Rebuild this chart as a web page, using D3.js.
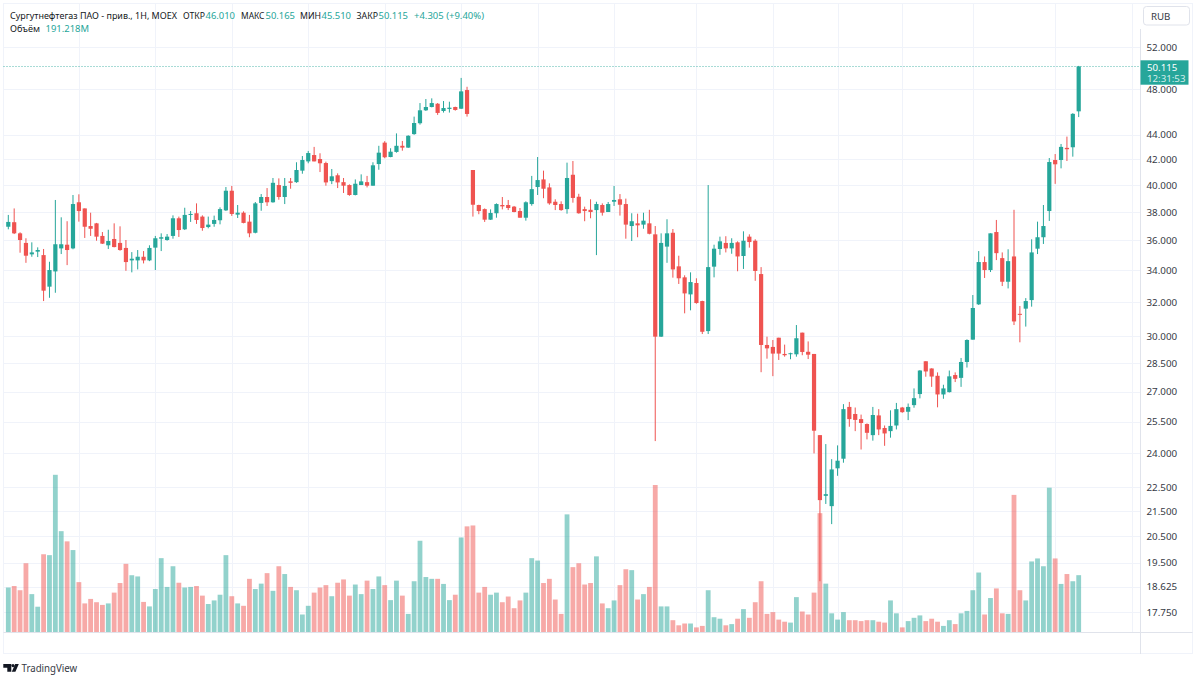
<!DOCTYPE html>
<html>
<head>
<meta charset="utf-8">
<script src="https://cdnjs.cloudflare.com/ajax/libs/d3/7.8.5/d3.min.js"></script>
<style>
	html, body {margin: 0; padding: 0; background: #fff;}
	svg {display: block;}
	text {font-family: "Noto Sans", sans-serif; font-size: 9.7px; fill: #131722;}
</style>
</head>
<body>
<svg id="chart" width="1200" height="682"></svg>
<script>
/* global d3 */

var verde = "#26a69a", rojo = "#ef5350", rejilla = "#f0f3fa", borde = "#e0e3eb";	//Colores del grafico

//Velas semanales: apertura, maximo, minimo, cierre, volumen (millones)
var velas = [
[36.94,37.78,36.76,37.28,150],[37.26,38.25,36.43,36.48,155],[36.48,36.55,35.16,36.02,141],[35.82,36.14,34.49,34.96,231],[35.05,35.86,34.89,35.18,128],
[35.23,35.52,34.87,35.34,86],[35.00,35.41,32.07,32.71,261],[32.96,34.56,32.27,34.02,258],[33.93,38.87,32.58,35.73,526],[35.45,37.61,35.07,35.73,338],
[35.70,37.33,34.34,35.34,304],[35.45,39.24,35.39,38.57,275],[38.70,39.29,37.30,38.06,168],[38.25,38.25,36.16,36.94,97],[36.99,37.94,36.30,36.80,112],
[37.18,37.21,35.97,36.25,101],[36.30,36.57,35.75,35.77,92],[35.66,36.73,35.41,35.95,97],[36.09,37.18,35.52,35.54,133],[35.82,36.97,35.29,35.34,165],
[35.48,36.02,33.97,34.54,229],[34.65,35.20,33.87,34.76,191],[34.65,35.34,34.06,34.89,187],[34.89,35.27,34.45,34.65,102],[34.65,35.66,34.60,35.48,87],
[35.50,36.30,34.02,36.14,145],[36.11,36.48,35.27,36.21,248],[36.02,36.43,35.97,36.25,152],[36.30,37.75,36.11,37.54,221],[37.54,37.66,36.23,36.71,166],
[36.76,38.30,36.71,37.78,150],[37.80,38.06,37.28,37.85,152],[37.90,38.62,37.14,37.42,155],[37.66,37.75,36.66,36.85,123],[36.92,37.66,36.83,37.09,95],
[37.14,37.73,36.94,37.42,107],[37.40,38.33,37.11,38.20,126],[38.11,39.84,38.06,39.56,258],[39.56,39.92,37.71,37.85,121],[37.80,38.50,37.56,37.94,97],
[37.94,38.04,37.18,37.21,89],[37.30,37.78,36.21,36.48,179],[36.52,38.72,36.48,38.62,145],[38.65,39.31,38.08,39.09,163],[39.09,39.76,38.43,38.70,198],
[38.70,40.53,38.67,40.16,139],[39.99,40.50,38.89,39.09,221],[39.09,40.53,38.57,39.92,195],[40.27,40.53,39.71,40.16,152],[40.21,41.76,40.16,41.15,141],
[41.10,42.26,40.86,41.94,60],[41.83,42.67,41.68,42.50,89],[42.34,43.00,41.83,41.83,133],[42.02,42.48,40.99,41.68,150],[41.70,41.81,39.94,40.19,158],
[40.29,41.23,40.06,40.66,121],[40.74,40.89,39.76,40.19,166],[40.21,40.53,39.39,39.94,177],[39.99,40.04,39.18,39.24,123],[39.24,40.42,39.21,40.09,160],
[39.99,40.81,39.99,40.27,128],[40.21,40.69,39.81,39.94,173],[39.94,41.76,39.94,41.52,145],[41.62,43.09,41.17,42.53,187],[43.35,43.47,42.08,42.16,158],
[42.18,42.89,42.16,42.61,108],[42.59,44.12,42.53,43.09,173],[43.09,43.49,42.69,42.94,123],[42.94,43.96,42.92,43.92,62],[44.06,45.55,44.00,45.00,171],
[44.98,46.74,44.86,46.10,306],[46.10,47.10,46.04,46.39,185],[46.39,47.16,46.36,46.74,179],[46.68,46.74,45.70,45.87,179],[46.04,46.92,45.90,46.30,162],
[46.22,46.86,45.90,46.33,108],[46.39,46.42,46.07,46.13,126],[46.24,49.03,46.22,47.79,317],[47.91,48.21,45.55,45.78,354],[41.15,41.15,37.66,38.52,357],
[38.50,38.52,37.83,38.06,133],[38.20,38.25,37.28,37.44,152],[37.44,38.18,37.42,37.92,126],[37.90,38.62,37.58,38.57,133],[38.50,39.09,38.18,38.40,101],
[38.50,38.87,38.13,38.28,120],[38.38,38.43,37.97,37.99,81],[38.06,38.28,37.58,37.58,107],[37.58,38.77,37.37,38.70,133],[38.57,40.69,38.45,39.68,248],
[39.84,42.18,39.24,40.37,240],[40.42,41.10,39.00,39.71,165],[39.81,40.12,38.52,38.62,179],[38.74,38.92,38.13,38.50,110],[38.57,38.77,38.08,38.13,62],
[38.20,41.73,37.87,40.53,394],[40.78,41.86,38.67,39.02,218],[39.11,39.33,37.87,37.90,231],[38.20,38.38,37.33,38.06,160],[38.15,38.92,37.54,37.99,165],
[38.13,38.74,35.00,38.57,254],[38.50,38.62,37.73,37.94,97],[37.99,38.72,37.99,38.57,81],[38.74,39.92,38.43,38.87,107],[38.92,39.31,37.73,38.52,158],
[38.57,38.97,36.11,37.09,211],[36.99,37.90,35.95,37.33,208],[37.18,37.87,36.21,37.04,110],[37.09,37.94,36.80,37.37,128],[37.18,38.15,36.41,36.45,152],
[36.41,36.99,24.57,29.97,492],[29.97,36.48,29.95,35.82,87],[35.57,37.47,34.49,36.48,87],[36.52,36.78,33.53,34.06,41],[34.26,34.96,33.13,33.49,24],
[33.55,33.68,31.33,32.54,30],[32.48,33.87,31.51,33.25,30],[33.19,33.49,31.91,31.95,17],[32.07,32.09,30.12,30.25,22],[30.29,39.99,30.12,34.21,141],
[34.24,35.70,33.55,35.43,51],[35.41,36.25,35.02,35.93,46],[35.82,36.28,35.18,35.45,24],[35.45,36.14,35.09,35.82,28],[35.86,35.93,33.94,34.91,46],
[34.94,36.62,34.09,35.97,78],[36.25,36.41,35.50,35.88,49],[35.97,36.07,33.33,33.96,101],[33.76,34.21,28.01,29.50,171],[29.50,29.97,28.74,29.31,62],
[29.39,29.78,27.80,29.02,68],[29.91,29.91,28.67,29.02,43],[29.00,29.52,28.85,28.93,36],[29.00,29.07,28.71,29.04,33],[28.98,30.64,28.85,29.88,118],
[30.20,30.20,28.93,29.11,70],[29.12,29.70,28.72,28.96,60],[29.00,29.00,24.00,25.06,133],[24.85,24.85,18.82,21.96,398],[22.14,24.43,21.80,22.21,163],
[21.71,23.74,20.98,23.28,64],[23.33,24.37,23.00,23.67,43],[23.76,26.36,23.58,26.11,68],[26.22,26.47,25.25,25.62,41],[25.87,26.19,25.04,25.58,41],
[25.62,25.84,24.18,25.43,38],[25.38,25.41,24.65,24.96,41],[24.85,26.22,24.59,25.82,41],[25.80,26.11,24.85,25.12,36],[25.19,25.31,24.35,24.93,33],
[25.04,26.05,24.73,25.29,107],[25.31,26.42,25.12,26.11,64],[26.19,26.22,25.93,25.96,17],[25.98,26.39,25.57,26.22,38],[26.31,27.16,26.18,26.66,49],
[26.87,28.12,26.65,28.10,57],[28.60,28.60,27.77,28.05,38],[28.21,28.22,27.24,27.78,46],[27.82,28.00,26.20,26.85,36],[26.85,27.35,26.63,27.16,22],
[26.97,28.10,26.95,27.79,41],[27.86,28.00,27.49,27.66,28],[27.71,28.78,27.24,28.56,64],[28.56,29.82,28.26,29.78,72],[29.80,32.44,29.80,31.65,141],
[31.87,35.27,31.83,34.54,200],[34.54,34.91,33.51,34.02,60],[34.02,36.48,33.89,36.48,115],[36.57,37.42,34.67,35.13,147],[34.80,35.18,33.00,33.27,64],
[33.27,35.39,32.85,34.60,62],[34.91,38.15,30.64,30.85,459],[31.30,31.77,29.65,31.24,141],[31.61,32.25,30.55,32.07,107],[32.13,36.07,31.73,35.18,237],
[35.43,37.30,35.07,36.21,247],[36.21,38.50,35.75,36.99,221],[38.06,42.10,37.35,41.78,483],[41.94,42.42,40.08,41.60,247],[41.94,43.24,41.28,43.00,162],
[42.92,43.85,41.86,42.81,195],[42.97,45.85,42.21,45.79,171],[46.01,50.165,45.51,50.115,191.218]
].map(function (d, i) {
	return {i: i, o: d[0], h: d[1], l: d[2], c: d[3], v: d[4]};
});

var recorte = {i: -1, h: 38.13, l: 36.92};		//Vela cortada por el borde izquierdo, solo se ve la mecha

var preciosEje = [52, 48, 44, 42, 40, 38, 36, 34, 32, 30, 28.5, 27, 25.5, 24, 22.5, 21.5, 20.5, 19.5, 18.625, 17.75];

//Marcas del eje de tiempo (i = numero de semana)
var fechas = [
	{i: -1.5, t: "2020", b: true, sinLinea: true}, {i: 12, t: "Апр"}, {i: 25, t: "Июл"}, {i: 38, t: "Окт"},
	{i: 51, t: "2021", b: true}, {i: 64, t: "Апр"}, {i: 77, t: "Июл"}, {i: 90, t: "Окт"},
	{i: 103, t: "2022", b: true}, {i: 117, t: "Май"}, {i: 130, t: "Авг"}, {i: 141, t: "17"},
	{i: 152, t: "2023", b: true}, {i: 164, t: "Апр"}, {i: 178, t: "Июл"}, {i: 191, t: "Окт"}
];

var svg = d3.select("#chart");
var izq = 3.5, der = 1140.5, abajo = 632.5;		//Limites del area de dibujo

var x = d3.scaleLinear().domain([0, 182]).range([8.3, 1078.7]);			//Semana a pixel
var y = d3.scaleLog().domain([52, 17.75]).range([47, 612]);				//Precio en escala logaritmica
var yVol = d3.scaleLinear().domain([0, 500]).range([abajo, 482.6]);		//Volumen abajo del grafico

svg.append("defs").append("clipPath").attr("id", "recorte-x")
	.append("rect").attr("x", izq).attr("y", 630).attr("width", 1190).attr("height", 30);

/*************************** REJILLA ***************************/
svg.append("g").selectAll("line").data(preciosEje).join("line")
	.attr("x1", izq).attr("x2", der)
	.attr("y1", function (d) {return Math.round(y(d)) + 0.5;})
	.attr("y2", function (d) {return Math.round(y(d)) + 0.5;})
	.attr("stroke", rejilla);

svg.append("g").selectAll("line").data(fechas.filter(function (d) {return !d.sinLinea;})).join("line")
	.attr("x1", function (d) {return Math.round(x(d.i)) + 0.5;})
	.attr("x2", function (d) {return Math.round(x(d.i)) + 0.5;})
	.attr("y1", 3).attr("y2", abajo)
	.attr("stroke", rejilla);

/*************************** VOLUMEN ***************************/
svg.append("g").selectAll("rect").data(velas).join("rect")
	.attr("x", function (d) {return x(d.i) - 2.4;})
	.attr("width", 4.8)
	.attr("y", function (d) {return yVol(d.v);})
	.attr("height", function (d) {return abajo - yVol(d.v);})
	.attr("fill", function (d) {return d.c >= d.o ? verde : rojo;})
	.attr("fill-opacity", 0.5);

/*************************** VELAS ***************************/
svg.append("line")
	.attr("x1", x(recorte.i) + 1).attr("x2", x(recorte.i) + 1)
	.attr("y1", y(recorte.h)).attr("y2", y(recorte.l))
	.attr("stroke", rojo).attr("stroke-opacity", 0.5);

var vela = svg.append("g").selectAll("g").data(velas).join("g");

vela.append("line")
	.attr("x1", function (d) {return x(d.i);})
	.attr("x2", function (d) {return x(d.i);})
	.attr("y1", function (d) {return y(d.h);})
	.attr("y2", function (d) {return y(d.l);})
	.attr("stroke", function (d) {return d.c >= d.o ? verde : rojo;})
	.attr("stroke-width", 1);

vela.append("rect")
	.attr("x", function (d) {return x(d.i) - 2.1;})
	.attr("width", 4.2)
	.attr("y", function (d) {return y(Math.max(d.o, d.c));})
	.attr("height", function (d) {return Math.max(1, Math.abs(y(d.o) - y(d.c)));})
	.attr("fill", function (d) {return d.c >= d.o ? verde : rojo;});

/*************************** MARCO ***************************/
svg.append("rect").attr("x", izq).attr("y", 3.5).attr("width", 1189).attr("height", 650)
	.attr("fill", "none").attr("stroke", rejilla);
svg.append("line").attr("x1", der).attr("x2", der).attr("y1", 29).attr("y2", 654).attr("stroke", borde);
svg.append("line").attr("x1", izq).attr("x2", 1192.5).attr("y1", abajo).attr("y2", abajo).attr("stroke", borde);

/*************************** EJES ***************************/
var ejeY = svg.append("g").attr("transform", "translate(" + der + ",0)")
	.call(d3.axisRight(y).tickValues(preciosEje).tickSize(0).tickPadding(6).tickFormat(d3.format(".3f")));
ejeY.select(".domain").remove();
ejeY.selectAll("text").attr("style", "font-family:'Noto Sans';font-size:9.8px;fill:#363a45");

var ejeX = svg.append("g").attr("transform", "translate(0," + abajo + ")").attr("clip-path", "url(#recorte-x)")
	.call(d3.axisBottom(x).tickValues(fechas.map(function (d) {return d.i;})).tickSize(0).tickPadding(5)
		.tickFormat(function (d) {return fechas.find(function (f) {return f.i === d;}).t;}));
ejeX.select(".domain").remove();
ejeX.selectAll("text")
	.attr("style", function (d) {
		var negrita = fechas.find(function (f) {return f.i === d;}).b;
		return "font-family:'Noto Sans';font-size:9.8px;fill:" + (negrita ? "#131722;font-weight:700" : "#363a45");
	});

/*************************** PRECIO ACTUAL ***************************/
var ultima = velas[velas.length - 1];
svg.append("line")
	.attr("x1", izq).attr("x2", der)
	.attr("y1", Math.round(y(ultima.c)) + 0.5).attr("y2", Math.round(y(ultima.c)) + 0.5)
	.attr("stroke", verde).attr("stroke-opacity", 0.8).attr("stroke-dasharray", "1 2");

svg.append("rect").attr("x", der).attr("y", 60.3).attr("width", 48).attr("height", 24.4).attr("fill", verde);
svg.append("text").attr("x", 1147).attr("y", 71).style("fill", "#ffffff").text(d3.format(".3f")(ultima.c));
svg.append("text").attr("x", 1147).attr("y", 81.5).style("fill", "#d4eeeb").text("12:31:53");

svg.append("rect").attr("x", 1143.5).attr("y", 6.5).attr("width", 46).attr("height", 18.5).attr("rx", 3)
	.attr("fill", "#fff").attr("stroke", borde);
svg.append("text").attr("x", 1151).attr("y", 20).style("fill", "#363a45").text("RUB");

/*************************** LEYENDA ***************************/
var leyenda = [
	{x: 10, y: 18.5, w: 167, t: "Сургутнефтегаз ПАО - прив., 1Н, MOEX"},
	{x: 183, y: 18.5, w: 22, t: "ОТКР"}, {x: 205.5, y: 18.5, w: 29.5, t: "46.010", c: verde},
	{x: 241, y: 18.5, w: 23.5, t: "МАКС"}, {x: 265.5, y: 18.5, w: 29.5, t: "50.165", c: verde},
	{x: 300, y: 18.5, w: 21, t: "МИН"}, {x: 321.5, y: 18.5, w: 29.5, t: "45.510", c: verde},
	{x: 356.5, y: 18.5, w: 21.5, t: "ЗАКР"}, {x: 378.5, y: 18.5, w: 29.5, t: "50.115", c: verde},
	{x: 414, y: 18.5, w: 70, t: "+4.305 (+9.40%)", c: verde},
	{x: 10, y: 32, w: 30, t: "Объём"}, {x: 45.5, y: 32, w: 43.5, t: "191.218M", c: verde}
];

svg.append("g").selectAll("text").data(leyenda).join("text")
	.attr("x", function (d) {return d.x;})
	.attr("y", function (d) {return d.y;})
	.attr("textLength", function (d) {return d.w;})
	.attr("lengthAdjust", "spacingAndGlyphs")
	.style("fill", function (d) {return d.c || "#131722";})
	.text(function (d) {return d.t;});

/*************************** LOGO ***************************/
svg.append("path")
	.attr("d", "M3.3 664h8v7.7h-4v-4h-4zM15.2 664h3.6l-3.4 7.7h-3.6z")
	.attr("fill", "#131722");
svg.append("circle").attr("cx", 13).attr("cy", 665.6).attr("r", 1.6).attr("fill", "#131722");
svg.append("text").attr("x", 21.5).attr("y", 672).attr("textLength", 55.7).attr("lengthAdjust", "spacingAndGlyphs")
	.style("font-size", "10.6px").style("fill", "#363a45").text("TradingView");
</script>
</body>
</html>
